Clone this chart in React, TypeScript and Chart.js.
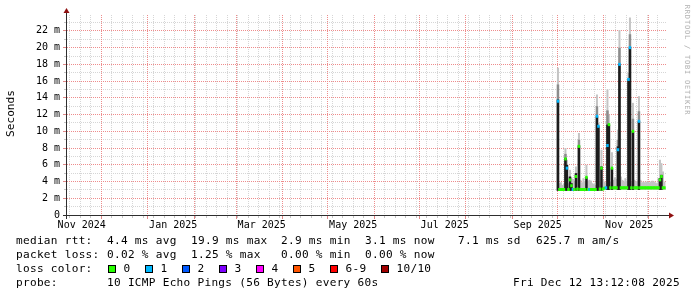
import React, { useEffect, useRef } from "react";
import { Chart, registerables } from "chart.js";

Chart.register(...registerables);

// ---------- data (days counted from 1 Nov 2024) ----------
const FIRST_DAY = 334; // 1 Oct 2025
const MEDIAN_MS = [
  13.6, 3.05, 3.05, 3.05, 3.05, 6.7, 5.6, 3.05, 4.2, 3.5,
  3.05, 3.05, 4.6, 3.1, 8.2, 3.05, 3.05, 3.05, 3.05, 4.5,
  3.05, 3.05, 3.05, 3.05, 3.05, 3.05, 11.8, 10.6, 3.1, 5.6,
  3.1, 3.2, 3.25, 8.3, 10.8, 3.25, 5.6, 3.25, 3.25, 3.25,
  7.8, 18.0, 3.25, 3.25, 3.25, 3.25, 3.25, 16.2, 20.0, 3.25,
  10.0, 3.25, 3.25, 3.25, 11.2, 3.25, 3.25, 3.25, 3.25, 3.25,
  3.25, 3.25, 3.25, 3.25, 3.25, 3.25, 3.25, 3.25, 4.2, 4.6,
  3.25, 3.25,
];
const LOSS_COUNT = [
  1, 0, 0, 0, 0, 0, 1, 0, 0, 0,
  1, 0, 0, 0, 0, 0, 0, 0, 0, 0,
  0, 1, 0, 0, 0, 0, 1, 1, 0, 0,
  0, 0, 1, 1, 0, 0, 0, 0, 0, 0,
  1, 1, 0, 0, 0, 0, 0, 1, 1, 0,
  0, 0, 0, 0, 1, 0, 0, 0, 0, 0,
  0, 0, 0, 0, 0, 0, 0, 0, 0, 0,
  0, 0,
];
const SMOKE_LOW_MS = [
  2.9, 2.9, 2.9, 2.9, 2.9, 2.9, 2.9, 2.9, 2.9, 2.9,
  2.9, 2.9, 2.9, 2.9, 2.9, 2.9, 2.9, 2.9, 2.9, 2.9,
  2.9, 2.9, 2.9, 2.9, 2.9, 2.9, 2.9, 2.9, 2.9, 2.9,
  3.0, 3.0, 3.0, 3.0, 3.0, 3.0, 3.0, 3.0, 3.0, 3.0,
  3.0, 3.0, 3.0, 3.0, 3.0, 3.0, 3.0, 3.0, 3.0, 3.0,
  3.0, 3.0, 3.0, 3.0, 3.0, 3.0, 3.0, 3.0, 3.0, 3.0,
  3.0, 3.0, 3.0, 3.0, 3.0, 3.0, 3.0, 3.0, 3.0, 3.0,
  3.0, 3.0,
];
const SMOKE_DARK_MS = [
  13.8, null, null, null, null, 6.8, 6.0, null, 4.6, 3.8,
  null, null, 5.0, null, 8.3, null, null, null, null, 4.5,
  null, null, null, null, null, null, 11.8, 10.6, null, 5.8,
  null, null, null, 10.8, 10.8, null, 5.6, null, null, null,
  8.2, 18.0, null, null, null, null, null, 16.2, 20.0, null,
  10.0, null, null, null, 11.2, null, null, null, null, null,
  null, null, null, null, null, null, null, null, 4.4, 4.8,
  null, null,
];
const SMOKE_MID_MS = [
  15.6, null, null, null, null, 7.3, null, null, null, null,
  null, null, null, null, 9.0, null, null, null, null, null,
  null, null, null, null, null, null, 13.0, null, null, null,
  null, null, null, 12.5, null, null, null, null, null, null,
  9.0, 20.0, null, null, null, null, null, null, 21.6, null,
  11.5, null, null, null, 12.4, null, null, null, null, null,
  null, null, null, null, null, null, null, null, null, null,
  null, null,
];
const SMOKE_MAX_MS = [
  17.6, 3.8, 3.9, 3.6, 3.7, 8.0, 6.6, 3.8, 5.4, 4.5,
  4.3, 4.1, 5.8, 4.4, 9.8, 4.2, 3.9, 4.4, 4.0, 6.0,
  4.1, 4.2, 4.1, 3.8, 3.7, 3.6, 14.4, 11.0, 3.9, 7.8,
  4.2, 4.0, 3.9, 15.0, 12.0, 4.0, 7.5, 4.2, 4.5, 4.3,
  10.2, 22.1, 4.6, 4.2, 4.0, 4.4, 4.1, 17.0, 23.6, 4.0,
  13.4, 4.2, 4.0, 4.1, 14.2, 4.2, 3.9, 4.0, 3.9, 4.0,
  4.0, 3.9, 4.0, 4.1, 4.0, 3.9, 3.8, 4.4, 6.6, 6.2,
  5.2, 4.0,
];

const X_MIN_DAY = 7.2;
const X_MAX_DAY = 407.2;
const Y_MAX_MS = 23.9;
const Y_TICK_VALUES = [0, 2, 4, 6, 8, 10, 12, 14, 16, 18, 20, 22];
const Y_TICK_LABELS = ["0", "2 m", "4 m", "6 m", "8 m", "10 m", "12 m", "14 m", "16 m", "18 m", "20 m", "22 m"];
const X_TICK_LABELS = ["Nov 2024", "Jan 2025", "Mar 2025", "May 2025", "Jul 2025", "Sep 2025", "Nov 2025"];

const LOSS_LABELS = ["0", "1", "2", "3", "4", "5", "6-9", "10/10"];
const LOSS_COLORS = ["#26ff00", "#00b8ff", "#0059ff", "#7e00ff", "#ff00ff", "#ff5500", "#ff0000", "#a10000"];
const RTT_STATS = ["4.4 ms avg", "19.9 ms max", "2.9 ms min", "3.1 ms now", "7.1 ms sd", "625.7 m am/s"];
const LOSS_STATS = ["0.02 % avg", "1.25 % max", "0.00 % min", "0.00 % now"];
const PROBE_TEXT = "10 ICMP Echo Pings (56 Bytes) every 60s";
const DATE_TEXT = "Fri Dec 12 13:12:08 2025";
const Y_TITLE = "Seconds";
const WATERMARK = "RRDTOOL / TOBI OETIKER";

// ---------- helpers ----------
const dayOf = (y: number, m: number, d = 1) =>
  Math.round((Date.UTC(y, m, d) - Date.UTC(2024, 10, 1)) / 86400000);
const MONTH_DAYS: number[] = [];
for (let k = 0; k <= 13; k++) MONTH_DAYS.push(dayOf(2024, 10 + k));
const WEEK_DAYS: number[] = [];
for (let d = dayOf(2024, 10, 10); d < X_MAX_DAY; d += 7) WEEK_DAYS.push(d);
const LABEL_DAYS = X_TICK_LABELS.map((_, i) => dayOf(2024, 10 + 2 * i) + 17);

const lossIndex = (n: number) => (n <= 5 ? n : n < 10 ? 6 : 7);
const dayX = MEDIAN_MS.map((_, i) => FIRST_DAY + i + 0.5);

const FONT = '"DejaVu Sans Mono", monospace';
const GRID_MINOR = "#d6d6d6";
const GRID_MAJOR = "#ee8c8c";
const AXIS_COLOR = "#2e2e2e";
const ARROW_COLOR = "#8f1010";

const floatBars = (tops: (number | null)[], color: string, thick: number) => ({
  type: "bar" as const,
  data: dayX
    .map((x, i) => (tops[i] == null ? null : { x, y: [SMOKE_LOW_MS[i], tops[i] as number] }))
    .filter((p) => p !== null),
  backgroundColor: color,
  borderWidth: 0,
  barThickness: thick,
  grouped: false,
  inflateAmount: 0,
});

const pxl = (v: number) => Math.floor(v) + 0.5;

const rrdPlugin = {
  id: "rrdLook",
  beforeDatasetsDraw(chart: any) {
    const { ctx, chartArea: a } = chart;
    const xs = chart.scales.x;
    const ys = chart.scales.y;
    ctx.save();
    ctx.lineWidth = 1;
    ctx.setLineDash([1, 1]);
    ctx.strokeStyle = GRID_MINOR;
    ctx.beginPath();
    for (let v = 1; v < Y_MAX_MS; v += 2) {
      const y = pxl(ys.getPixelForValue(v));
      ctx.moveTo(a.left, y);
      ctx.lineTo(a.right, y);
    }
    for (const d of WEEK_DAYS) {
      if (d <= X_MIN_DAY) continue;
      const x = pxl(xs.getPixelForValue(d));
      ctx.moveTo(x, a.top);
      ctx.lineTo(x, a.bottom);
    }
    ctx.stroke();
    ctx.strokeStyle = GRID_MAJOR;
    ctx.beginPath();
    for (let v = 2; v < Y_MAX_MS; v += 2) {
      const y = pxl(ys.getPixelForValue(v));
      ctx.moveTo(a.left, y);
      ctx.lineTo(a.right, y);
    }
    for (const d of MONTH_DAYS) {
      if (d <= X_MIN_DAY || d >= X_MAX_DAY) continue;
      const x = pxl(xs.getPixelForValue(d));
      ctx.moveTo(x, a.top);
      ctx.lineTo(x, a.bottom);
    }
    ctx.stroke();
    ctx.restore();
  },
  afterDraw(chart: any) {
    const { ctx, chartArea: a } = chart;
    const xs = chart.scales.x;
    const ys = chart.scales.y;
    ctx.save();
    ctx.setLineDash([]);
    ctx.lineWidth = 1;
    // small ticks
    ctx.strokeStyle = "#c4c4c4";
    ctx.beginPath();
    for (let v = 1; v < Y_MAX_MS; v += 2) {
      const y = pxl(ys.getPixelForValue(v));
      ctx.moveTo(a.left - 3, y);
      ctx.lineTo(a.left - 1, y);
    }
    for (const d of WEEK_DAYS) {
      if (d <= X_MIN_DAY) continue;
      const x = pxl(xs.getPixelForValue(d));
      ctx.moveTo(x, a.bottom + 1);
      ctx.lineTo(x, a.bottom + 3);
    }
    ctx.stroke();
    ctx.strokeStyle = "#e08888";
    ctx.beginPath();
    for (let v = 0; v < Y_MAX_MS; v += 2) {
      const y = pxl(ys.getPixelForValue(v));
      ctx.moveTo(a.left - 4, y);
      ctx.lineTo(a.left - 1, y);
    }
    for (const d of MONTH_DAYS) {
      if (d <= X_MIN_DAY || d >= X_MAX_DAY) continue;
      const x = pxl(xs.getPixelForValue(d));
      ctx.moveTo(x, a.bottom + 1);
      ctx.lineTo(x, a.bottom + 4);
    }
    ctx.stroke();
    // axes
    const ax = a.left - 0.5;
    const ay = a.bottom + 0.5;
    ctx.strokeStyle = AXIS_COLOR;
    ctx.beginPath();
    ctx.moveTo(a.left - 4, ay);
    ctx.lineTo(a.right + 4, ay);
    ctx.moveTo(ax, a.bottom + 4);
    ctx.lineTo(ax, a.top - 4);
    ctx.stroke();
    // arrows
    ctx.fillStyle = ARROW_COLOR;
    ctx.beginPath();
    ctx.moveTo(a.right + 2, ay - 3);
    ctx.lineTo(a.right + 2, ay + 3);
    ctx.lineTo(a.right + 7, ay);
    ctx.closePath();
    ctx.fill();
    ctx.beginPath();
    ctx.moveTo(ax - 3, a.top - 2);
    ctx.lineTo(ax + 3, a.top - 2);
    ctx.lineTo(ax, a.top - 7);
    ctx.closePath();
    ctx.fill();

    // y title
    ctx.fillStyle = "#000";
    ctx.font = `11.1px ${FONT}`;
    ctx.textAlign = "center";
    ctx.textBaseline = "middle";
    ctx.save();
    ctx.translate(11, 113.5);
    ctx.rotate(-Math.PI / 2);
    ctx.fillText(Y_TITLE, 0, 0);
    ctx.restore();

    // watermark
    ctx.save();
    ctx.fillStyle = "#b0b0b0";
    ctx.font = `7px ${FONT}`;
    (ctx as any).letterSpacing = "0.8px";
    ctx.translate(687, 60);
    ctx.rotate(Math.PI / 2);
    ctx.fillText(WATERMARK, 0, 0);
    ctx.restore();

    // legend
    ctx.font = `11.1px ${FONT}`;
    (ctx as any).letterSpacing = "0.28px";
    ctx.textAlign = "left";
    ctx.textBaseline = "middle";
    ctx.fillStyle = "#000";
    const L = 16;
    const statX = [107, 191, 281, 365, 458, 536];
    const rows = [241, 255, 269, 283.5];
    ctx.fillText("median rtt:", L, rows[0]);
    RTT_STATS.forEach((s, i) => ctx.fillText(s, statX[i], rows[0]));
    ctx.fillText("packet loss:", L, rows[1]);
    LOSS_STATS.forEach((s, i) => ctx.fillText(s, statX[i], rows[1]));
    ctx.fillText("loss color:", L, rows[2]);
    let bx = 108;
    LOSS_LABELS.forEach((lab, i) => {
      ctx.fillStyle = LOSS_COLORS[i];
      ctx.fillRect(bx, rows[2] - 4, 8, 8);
      ctx.strokeStyle = "#000";
      ctx.strokeRect(bx + 0.5, rows[2] - 3.5, 7, 7);
      ctx.fillStyle = "#000";
      ctx.fillText(lab, bx + 15.5, rows[2]);
      bx += 15.5 + lab.length * 7 + 14.5;
    });
    ctx.fillText("probe:", L, rows[3]);
    ctx.fillText(PROBE_TEXT, statX[0], rows[3]);
    ctx.textAlign = "right";
    ctx.fillText(DATE_TEXT, 680, rows[3]);
    ctx.restore();
  },
};

export default function App() {
  const ref = useRef<HTMLCanvasElement>(null);
  useEffect(() => {
    const canvas = ref.current!;
    const medianDs = {
      type: "bar" as const,
      data: dayX.map((x, i) => ({ x, y: [MEDIAN_MS[i] - 0.18, MEDIAN_MS[i] + 0.18] })),
      backgroundColor: (c: any) => LOSS_COLORS[lossIndex(LOSS_COUNT[c.dataIndex] ?? 0)],
      borderWidth: 0,
      barThickness: 2.5,
      grouped: false,
      inflateAmount: 0,
    };
    const chart = new Chart(canvas, {
      type: "bar",
      data: {
        datasets: [
          medianDs as any,
          floatBars(SMOKE_DARK_MS, "#1c1c1c", 2.5) as any,
          floatBars(SMOKE_MID_MS, "#8c8c8c", 2.5) as any,
          floatBars(SMOKE_MAX_MS, "#c4c4c4", 2) as any,
        ],
      },
      options: {
        responsive: false,
        maintainAspectRatio: false,
        animation: false,
        devicePixelRatio: 1,
        events: [],
        layout: { padding: { left: 0, top: 15, right: 30, bottom: 0 }, autoPadding: false } as any,
        plugins: { legend: { display: false }, tooltip: { enabled: false }, title: { display: false } },
        scales: {
          x: {
            type: "linear",
            min: X_MIN_DAY,
            max: X_MAX_DAY,
            offset: false,
            bounds: "data",
            grid: { display: false, drawTicks: false },
            border: { display: false },
            afterBuildTicks: (s: any) => {
              s.ticks = LABEL_DAYS.map((value) => ({ value }));
            },
            afterFit: (s: any) => {
              s.height = 82;
            },
            ticks: {
              autoSkip: false,
              maxRotation: 0,
              minRotation: 0,
              padding: 4,
              color: "#000",
              font: { family: FONT, size: 10 },
              callback: (_v: any, i: number) => X_TICK_LABELS[i],
            },
          },
          y: {
            type: "linear",
            min: 0,
            max: Y_MAX_MS,
            bounds: "data",
            grid: { display: false, drawTicks: false },
            border: { display: false },
            afterBuildTicks: (s: any) => {
              s.ticks = Y_TICK_VALUES.map((value) => ({ value }));
            },
            afterFit: (s: any) => {
              s.width = 67;
            },
            ticks: {
              autoSkip: false,
              padding: 7,
              color: "#000",
              font: { family: FONT, size: 10 },
              callback: (_v: any, i: number) => Y_TICK_LABELS[i],
            },
          },
        },
      } as any,
      plugins: [rrdPlugin],
    });
    return () => chart.destroy();
  }, []);
  return (
    <canvas
      ref={ref}
      width={697}
      height={297}
      style={{ position: "fixed", left: 0, top: 0, width: 697, height: 297 }}
    />
  );
}
